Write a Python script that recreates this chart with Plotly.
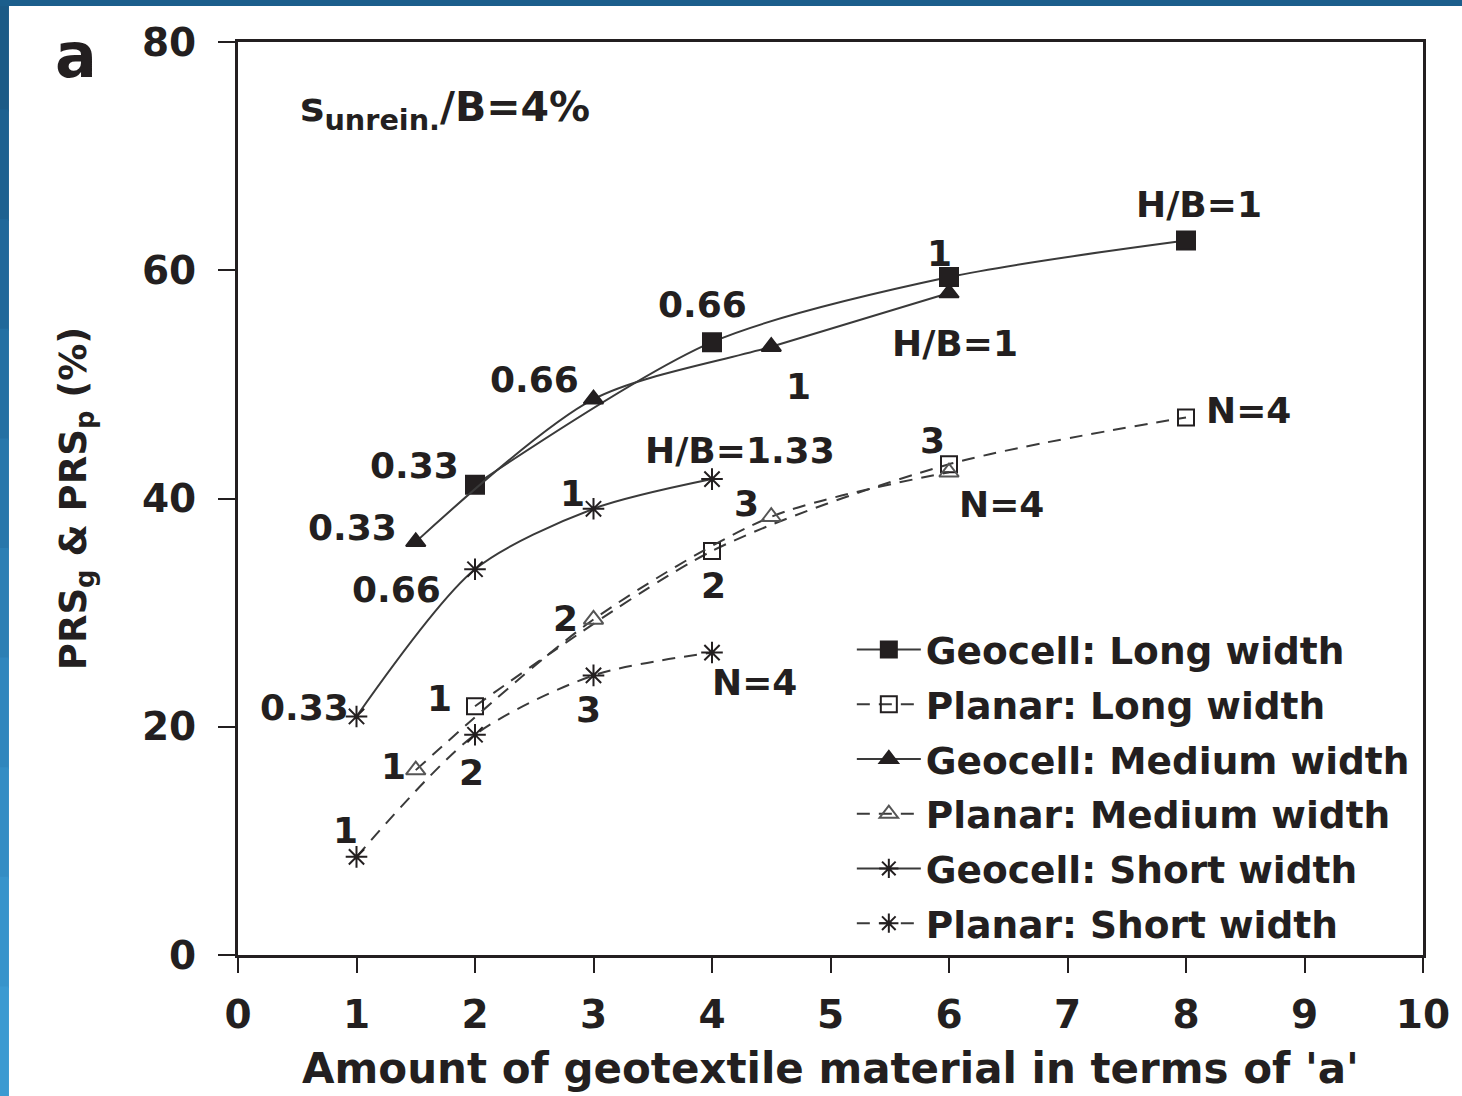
import plotly.graph_objects as go

# ---- data ----
x_geo_long = [2, 4, 6, 8]
y_geo_long = [41.2, 53.7, 59.4, 62.6]
x_pla_long = [2, 4, 6, 8]
y_pla_long = [21.8, 35.4, 43.0, 47.1]
x_geo_med = [1.5, 3, 4.5, 6]
y_geo_med = [36.2, 48.7, 53.3, 58.0]
x_pla_med = [1.5, 3, 4.5, 6]
y_pla_med = [16.2, 29.4, 38.4, 42.3]
x_geo_short = [1, 2, 3, 4]
y_geo_short = [20.9, 33.8, 39.1, 41.7]
x_pla_short = [1, 2, 3, 4]
y_pla_short = [8.6, 19.3, 24.5, 26.5]

series_names = ["Geocell: Long width", "Planar: Long width", "Geocell: Medium width",
                "Planar: Medium width", "Geocell: Short width", "Planar: Short width"]

x_ticks = [0, 1, 2, 3, 4, 5, 6, 7, 8, 9, 10]
y_ticks = [0, 20, 40, 60, 80]

# point labels: (text, x, y)
label_text = ["H/B=1", "1", "0.66", "0.66", "H/B=1", "1", "0.33", "0.33", "H/B=1.33", "1", "3",
              "0.66", "3", "N=4", "N=4", "2", "2", "0.33", "1", "3", "N=4", "1", "2", "1"]
label_x = [8.11, 5.92, 3.92, 2.50, 6.05, 4.73, 1.49, 0.97, 4.24, 2.82, 4.29,
           1.34, 5.86, 8.53, 6.44, 4.01, 2.76, 0.56, 1.70, 2.96, 4.36, 1.31, 1.97, 0.91]
label_y = [65.8, 61.5, 57.0, 50.4, 53.6, 49.8, 42.9, 37.5, 44.2, 40.4, 39.6,
           32.0, 45.1, 47.7, 39.5, 32.4, 29.5, 21.7, 22.5, 21.5, 23.9, 16.5, 16.0, 10.9]

INK = "#231f20"
LINE = "#3a3a3a"
FONT = "DejaVu Sans"

fig = go.Figure()

styles = [
    (x_geo_long, y_geo_long, "solid", "square", 18, INK),
    (x_pla_long, y_pla_long, "13px,9px", "square-open", 16, INK),
    (x_geo_med, y_geo_med, "solid", "triangle-up", 17, INK),
    (x_pla_med, y_pla_med, "13px,9px", "triangle-up-open", 17, "#555555"),
    (x_geo_short, y_geo_short, "solid", "asterisk-open", 18, INK),
    (x_pla_short, y_pla_short, "13px,9px", "asterisk-open", 18, INK),
]
for i, (name, (xs, ys, dash, sym, sz, mc)) in enumerate(zip(series_names, styles)):
    fig.add_trace(go.Scatter(
        x=xs, y=ys, name=name, mode="lines+markers", legendgroup=f"g{i}",
        line=dict(color=LINE, width=2, dash=dash, shape="spline", smoothing=0.8),
        marker=dict(symbol=sym, size=sz, color=mc, line=dict(color=mc, width=2)),
    ))

for t, xx, yy in zip(label_text, label_x, label_y):
    fig.add_annotation(x=xx, y=yy, xref="x", yref="y", text=t, showarrow=False,
                       font=dict(family=FONT, size=36, color=INK, weight="bold"))

# panel letter and condition text
fig.add_annotation(x=(75 - 238) / 1190, y=1 + (42 - 55) / 913, xref="paper", yref="paper",
                   xanchor="center", yanchor="middle", text="a", showarrow=False,
                   font=dict(family=FONT, size=62, color=INK, weight="bold"))
fig.add_annotation(x=(298 - 238) / 1190, y=1 - (110 - 42) / 913, xref="paper", yref="paper",
                   xanchor="left", yanchor="middle", text="s<sub>unrein.</sub>/B=4%",
                   showarrow=False,
                   font=dict(family=FONT, size=41, color=INK, weight="bold"))

# blue border (left and top)
blues = ["#1b5a86", "#1d6190", "#20689a", "#2470a3", "#2877ab", "#2c7fb4", "#3086bd",
         "#348dc4", "#3894cb", "#3c9ad1"]
n = len(blues)
for i, c in enumerate(blues):
    y_top = 1 + 42 / 913 - i * (1096 / 913) / n
    y_bot = 1 + 42 / 913 - (i + 1) * (1096 / 913) / n
    fig.add_shape(type="rect", xref="paper", yref="paper",
                  x0=-238 / 1190 - 0.01, x1=(8 - 238) / 1190, y0=y_bot - 0.002, y1=y_top,
                  fillcolor=c, line=dict(width=0), layer="above")
fig.add_shape(type="rect", xref="paper", yref="paper",
              x0=-238 / 1190 - 0.01, x1=1 + 34 / 1190 + 0.01,
              y0=1 + 36 / 913, y1=1 + 42 / 913 + 0.01,
              fillcolor="#1b5e8c", line=dict(width=0), layer="above")

fig.update_layout(
    width=1462, height=1096,
    margin=dict(l=238, r=32, t=42, b=141),
    paper_bgcolor="white", plot_bgcolor="white",
    showlegend=True,
    legend=dict(x=0.518, y=0.3685, xanchor="left", yanchor="top",
                font=dict(family=FONT, size=37.5, color=INK, weight="bold"),
                bgcolor="rgba(0,0,0,0)", tracegroupgap=3, itemwidth=64),
    font=dict(family=FONT, color=INK),
)
fig.update_xaxes(
    range=[0, 10], tickvals=x_ticks, ticktext=[str(v) for v in x_ticks],
    showgrid=False, zeroline=False, showline=True, linecolor=INK, linewidth=3,
    mirror=True, ticks="outside", ticklen=15, tickwidth=2, tickcolor=INK,
    tickfont=dict(family=FONT, size=39, color=INK, weight="bold"), ticklabelstandoff=8,
    title=dict(text="Amount of geotextile material in terms of 'a'", standoff=18,
               font=dict(family=FONT, size=42, color=INK, weight="bold")),
)
fig.update_yaxes(
    range=[0, 80], tickvals=y_ticks, ticktext=[str(v) for v in y_ticks],
    showgrid=False, zeroline=False, showline=True, linecolor=INK, linewidth=3,
    mirror=True, ticks="outside", ticklen=17, tickwidth=2, tickcolor=INK,
    tickfont=dict(family=FONT, size=39, color=INK, weight="bold"), ticklabelstandoff=14,
    title=dict(text="PRS<sub>g</sub> &amp; PRS<sub>p</sub> (%)", standoff=44,
               font=dict(family=FONT, size=37, color=INK, weight="bold")),
)

fig.write_html("out.html")
